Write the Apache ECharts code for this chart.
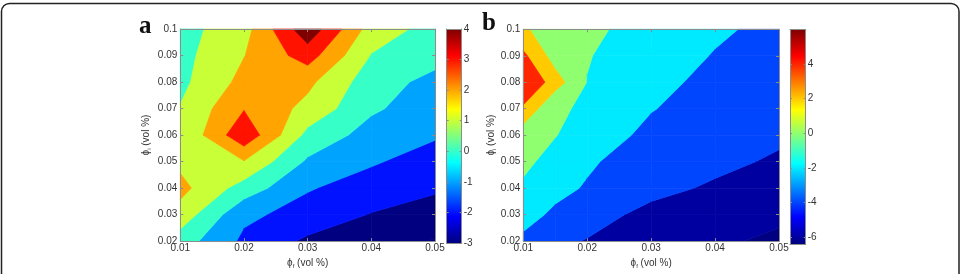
<!DOCTYPE html>
<html>
<head>
<meta charset="utf-8">
<script src="https://cdn.jsdelivr.net/npm/echarts@6/dist/echarts.min.js"></script>
<style>
  html, body { margin: 0; padding: 0; background: #fff; }
  #main { width: 963px; height: 274px; }
</style>
</head>
<body>
<div id="main"></div>
<script>
// grid of the two contour maps (phi_f along x, phi_i along y)
var yRows = [0.02, 0.03, 0.04, 0.05, 0.06, 0.07, 0.08, 0.09, 0.1];
var xA = [0.01, 0.02, 0.03, 0.04, 0.05];
var xB = [0.01, 0.015, 0.02, 0.03, 0.04, 0.05];

// values, one row per yRows entry (bottom to top)
var zA = [
  [0.5, -1.2, -2.18, -2.65, -3.05],
  [1.6, -0.8, -1.36, -2.05, -2.5],
  [2.3, 0.56, -0.93, -1.4, -1.85],
  [1.76, 1.95, -0.15, -0.9, -1.4],
  [1.03, 3.75, 0.71, -0.4, -0.9],
  [1.05, 2.94, 1.7, 0.15, -0.55],
  [0.75, 2.3, 2.23, 0.45, -0.3],
  [0.68, 1.97, 3.45, 0.95, 0.35],
  [0.64, 1.6, 4.7, 1.55, 0.62]
];

// values
var zB = [
  [-2.45, -3.6, -4.09, -5.0, -5.66, -6.4],
  [-1.2, -2.41, -3.3, -4.5, -5.0, -5.6],
  [-0.25, -1.4, -2.2, -3.5, -4.25, -5.0],
  [0.35, -0.57, -1.7, -3.2, -3.57, -4.25],
  [0.84, 0.06, -0.8, -2.54, -3.3, -3.7],
  [3.6, 0.12, -0.12, -1.9, -3.0, -3.3],
  [6.3, 2.9, -0.05, -1.48, -2.5, -3.0],
  [4.43, 1.1, 0.1, -1.1, -2.1, -2.7],
  [2.2, 1.2, 0.6, -1.16, -1.72, -2.5]
];

var levelsA = [-3, -2, -1, 0, 1, 2, 3, 4];
var levelsB = [-6, -4, -2, 0, 2, 4];
var climA = [-3, 4];
var climB = [-6.4, 6];
var cbTicksA = [-3, -2, -1, 0, 1, 2, 3, 4];
var cbTicksB = [-6, -4, -2, 0, 2, 4];

var LINE = '#8c8c8c';
var TXT = '#333';

var chart = echarts.init(document.getElementById('main'));

function jet(t) {
  t = Math.max(0, Math.min(1, t));
  function ch(c) { return Math.round(255 * Math.min(1, Math.max(0, 1.5 - Math.abs(4 * t - c)))); }
  return 'rgb(' + ch(3) + ',' + ch(2) + ',' + ch(1) + ')';
}

// cut a polygon (points carry [x, y, value]) to value >= lev or value < lev
function clip(poly, lev, above) {
  var out = [];
  for (var k = 0; k < poly.length; k++) {
    var p = poly[k], q = poly[(k + 1) % poly.length];
    var pin = above ? p[2] >= lev : p[2] < lev;
    var qin = above ? q[2] >= lev : q[2] < lev;
    if (pin) out.push(p);
    if (pin !== qin) {
      var t = (lev - p[2]) / (q[2] - p[2]);
      out.push([p[0] + t * (q[0] - p[0]), p[1] + t * (q[1] - p[1]), lev]);
    }
  }
  return out;
}

function contour(idx, xs, zs, levels, clim) {
  var cells = [];
  for (var j = 0; j < yRows.length - 1; j++) {
    for (var i = 0; i < xs.length - 1; i++) {
      cells.push([xs[i], yRows[j], i, j]);
    }
  }
  var colors = [jet(0)];
  levels.forEach(function (l) { colors.push(jet((l - clim[0]) / (clim[1] - clim[0]))); });
  return {
    type: 'custom',
    xAxisIndex: idx, yAxisIndex: idx,
    silent: true, z: 1,
    encode: { x: 0, y: 1 },
    data: cells,
    renderItem: function (params, api) {
      var i = api.value(2), j = api.value(3);
      var corner = [
        [xs[i], yRows[j], zs[j][i]],
        [xs[i + 1], yRows[j], zs[j][i + 1]],
        [xs[i + 1], yRows[j + 1], zs[j + 1][i + 1]],
        [xs[i], yRows[j + 1], zs[j + 1][i]]
      ];
      var children = [];
      for (var b = 0; b <= levels.length; b++) {
        var poly = corner;
        if (b > 0) poly = clip(poly, levels[b - 1], true);
        if (b < levels.length && poly.length) poly = clip(poly, levels[b], false);
        if (poly.length < 3) continue;
        children.push({
          type: 'polygon',
          shape: { points: poly.map(function (p) { return api.coord([p[0], p[1]]); }) },
          style: { fill: colors[b], stroke: colors[b], lineWidth: 0.7 }
        });
      }
      return { type: 'group', children: children };
    }
  };
}

function colorbar(idx, clim) {
  return {
    type: 'custom',
    xAxisIndex: idx, yAxisIndex: idx,
    silent: true, z: 1,
    data: [[0, clim[0], 1, clim[1]]],
    encode: { x: 0, y: 1 },
    renderItem: function (params, api) {
      var p0 = api.coord([api.value(0), api.value(1)]);
      var p1 = api.coord([api.value(2), api.value(3)]);
      var stops = [0, 0.125, 0.375, 0.625, 0.875, 1].map(function (s) {
        return { offset: s, color: jet(s) };
      });
      return {
        type: 'rect',
        shape: { x: p0[0], y: p1[1], width: p1[0] - p0[0], height: p0[1] - p1[1] },
        style: { fill: new echarts.graphic.LinearGradient(0, 1, 0, 0, stops) }
      };
    }
  };
}

var fmt = function (v) { return String(+v.toFixed(3)); };
var tick = { inside: true, length: 3, lineStyle: { color: LINE } };
var line = { show: true, onZero: false, lineStyle: { color: LINE, width: 1 } };
var nameStyle = {
  color: TXT, fontSize: 10,
  rich: { s: { fontSize: 6, padding: [6, 0, 0, 0] } }
};

function plotAxes(g, xs, nameGapY) {
  return {
    x: [
      { gridIndex: g, type: 'value', min: 0.01, max: 0.05, interval: 0.01, position: 'bottom',
        name: 'ϕ{s|f} (vol %)', nameLocation: 'middle', nameGap: 15, nameTextStyle: nameStyle,
        axisLine: line, axisTick: tick, splitLine: { show: false }, z: 5,
        axisLabel: { color: TXT, fontSize: 10, margin: 2, formatter: fmt } },
      { gridIndex: g, type: 'value', min: 0.01, max: 0.05, interval: 0.01, position: 'top',
        axisLine: line, axisTick: tick, splitLine: { show: false }, axisLabel: { show: false }, z: 5 }
    ],
    y: [
      { gridIndex: g, type: 'value', min: 0.02, max: 0.1, interval: 0.01, position: 'left',
        name: 'ϕ{s|i} (vol %)', nameLocation: 'middle', nameGap: nameGapY, nameTextStyle: nameStyle,
        axisLine: line, axisTick: tick, splitLine: { show: false }, z: 5,
        axisLabel: { color: TXT, fontSize: 10, margin: 3, formatter: fmt } },
      { gridIndex: g, type: 'value', min: 0.02, max: 0.1, interval: 0.01, position: 'right',
        axisLine: line, axisTick: tick, splitLine: { show: false }, axisLabel: { show: false }, z: 5 }
    ]
  };
}

function barAxes(g, clim, ticks) {
  var t = { inside: true, length: 2, lineStyle: { color: LINE }, customValues: ticks };
  return {
    x: [
      { gridIndex: g, type: 'value', min: 0, max: 1, position: 'bottom', axisLine: line,
        axisTick: { show: false }, axisLabel: { show: false }, splitLine: { show: false }, z: 5 },
      { gridIndex: g, type: 'value', min: 0, max: 1, position: 'top', axisLine: line,
        axisTick: { show: false }, axisLabel: { show: false }, splitLine: { show: false }, z: 5 }
    ],
    y: [
      { gridIndex: g, type: 'value', min: clim[0], max: clim[1], position: 'left', axisLine: line,
        axisTick: t, axisLabel: { show: false }, splitLine: { show: false }, z: 5 },
      { gridIndex: g, type: 'value', min: clim[0], max: clim[1], position: 'right', axisLine: line,
        axisTick: t, splitLine: { show: false }, z: 5,
        axisLabel: { color: TXT, fontSize: 10, margin: 2, customValues: ticks } }
    ]
  };
}

var parts = [plotAxes(0, xA, 28), barAxes(1, climA, cbTicksA), plotAxes(2, xB, 26), barAxes(3, climB, cbTicksB)];
var xAxes = [], yAxes = [];
parts.forEach(function (p) { xAxes = xAxes.concat(p.x); yAxes = yAxes.concat(p.y); });

var option = {
  animation: false,
  textStyle: { fontFamily: 'Liberation Sans' },
  grid: [
    { left: 180.3, top: 29, width: 254.7, height: 214.7 },
    { left: 446.7, top: 29, width: 15, height: 214 },
    { left: 523.3, top: 29.3, width: 255.7, height: 215.7 },
    { left: 790, top: 29.5, width: 15.7, height: 214.5 }
  ],
  xAxis: xAxes,
  yAxis: yAxes,
  graphic: [
    { type: 'rect', shape: { x: 1.5, y: 3.5, width: 957.5, height: 300, r: 8 },
      style: { fill: 'none', stroke: '#222', lineWidth: 1.5 }, z: 100 },
    { type: 'text', x: 139, y: 27, style: { text: 'a', font: 'bold 25px "Liberation Serif"', fill: '#111', verticalAlign: 'middle' } },
    { type: 'text', x: 482, y: 24, style: { text: 'b', font: 'bold 25px "Liberation Serif"', fill: '#111', verticalAlign: 'middle' } }
  ],
  series: [
    contour(0, xA, zA, levelsA, climA),
    colorbar(2, climA),
    contour(4, xB, zB, levelsB, climB),
    colorbar(6, climB)
  ]
};

chart.setOption(option);
</script>
</body>
</html>
